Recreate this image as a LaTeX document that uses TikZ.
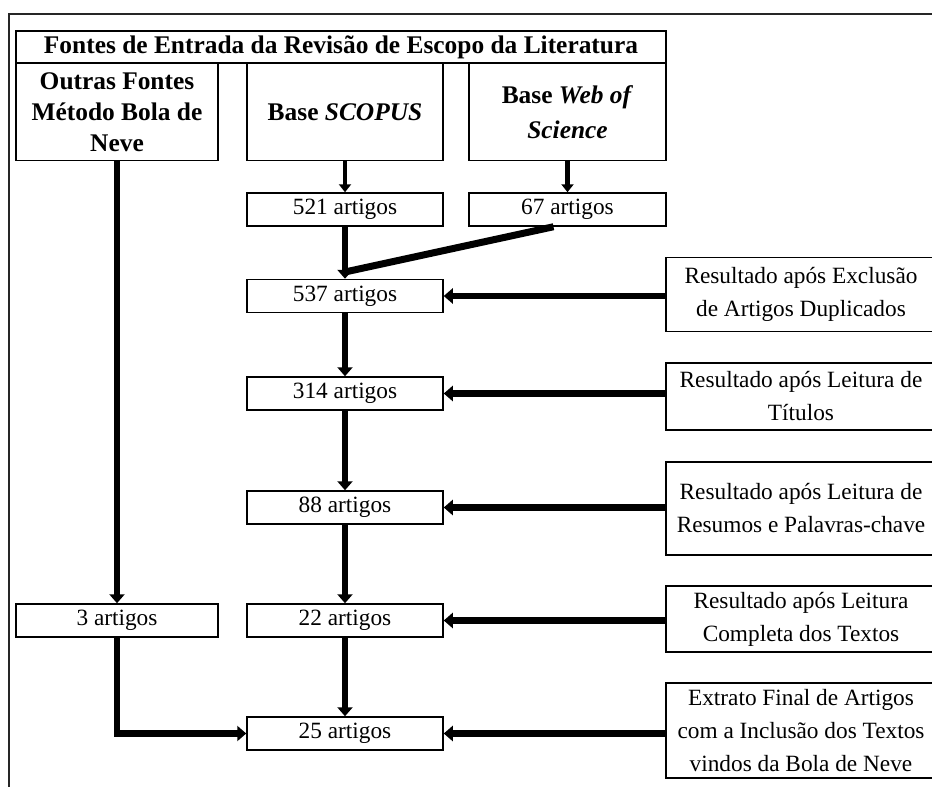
\documentclass[tikz,border=0pt]{standalone}
\usepackage{fontspec}
\setmainfont{Liberation Serif}
\usetikzlibrary{arrows.meta}

\begin{document}
\begin{tikzpicture}[x=1pt,y=-1pt,
  box/.style={draw=black, line width=1.5pt, fill=white, inner sep=0pt, align=center},
  srcbox/.style={box, font=\fontsize{25.4}{31}\selectfont\bfseries, minimum height=97pt},
  cntbox/.style={box, font=\fontsize{23.3}{33}\selectfont, minimum width=196pt, minimum height=33pt},
  notebox/.style={box, font=\fontsize{23.3}{33}\selectfont, minimum width=270pt},
  flow/.style={line width=6.5pt, -{Triangle[length=9pt,width=15pt]}},
  thinflow/.style={line width=4.5pt, -{Triangle[length=8pt,width=12pt]}},
  bar/.style={line width=7pt}]
\useasboundingbox (0,0) rectangle (932,787);
\clip (0,0) rectangle (932,787);

% outer frame
\draw[line width=1.3pt, black!85] (9,800) -- (9,14) -- (950,14);

% header and sources
\node[box, font=\fontsize{25.4}{31}\selectfont\bfseries, minimum width=650pt, minimum height=32pt]
  (head) at (341,47) {Fontes de Entrada da Revisão de Escopo da Literatura};
\node[srcbox, minimum width=202pt] (outras) at (117,112) {Outras Fontes\\Método Bola de\\Neve};
\node[srcbox, minimum width=196pt] (scopus) at (345,112) {Base \textit{SCOPUS}};
\node[srcbox, minimum width=197pt, font=\fontsize{25.4}{35}\selectfont\bfseries]
  (wos) at (567.5,112) {Base \textit{Web of}\\\textit{Science}};

% counts
\node[cntbox] (n521) at (345,209.5) {521 artigos};
\node[cntbox, minimum width=197pt] (n67) at (567.5,209.5) {67 artigos};
\node[cntbox] (n537) at (345,296) {537 artigos};
\node[cntbox] (n314) at (345,393.5) {314 artigos};
\node[cntbox] (n88) at (345,507.5) {88 artigos};
\node[cntbox, minimum width=202pt] (n3) at (117,620.5) {3 artigos};
\node[cntbox] (n22) at (345,620.5) {22 artigos};
\node[cntbox] (n25) at (345,733.5) {25 artigos};

% stage notes
\node[notebox, minimum height=74pt] (r1) at (801,294.5) {Resultado após Exclusão\\de Artigos Duplicados};
\node[notebox, minimum height=67pt] (r2) at (801,396.5) {Resultado após Leitura de\\Títulos};
\node[notebox, minimum height=93pt] (r3) at (801,508.5) {Resultado após Leitura de\\Resumos e Palavras-chave};
\node[notebox, minimum height=66pt] (r4) at (801,619) {Resultado após Leitura\\Completa dos Textos};
\node[notebox, minimum height=95pt] (r5) at (801,730.5) {Extrato Final de Artigos\\com a Inclusão dos Textos\\vindos da Bola de Neve};

% flows
\draw[thinflow] (scopus) -- (n521);
\draw[thinflow] (wos) -- (n67);
\coordinate (join) at (345,272);
\draw[bar] ([xshift=-14pt]n67.south) -- (join);
\draw[flow] (n521) -- (n537);
\draw[flow] (n537) -- (n314);
\draw[flow] (n314) -- (n88);
\draw[flow] (n88) -- (n22);
\draw[flow] (n22) -- (n25);
\draw[flow] (outras) -- (n3);
\draw[flow] (n3.south) |- (n25.west);

\draw[flow] (n537.east -| r1.west) -- (n537.east);
\draw[flow] (n314.east -| r2.west) -- (n314.east);
\draw[flow] (n88.east -| r3.west) -- (n88.east);
\draw[flow] (n22.east -| r4.west) -- (n22.east);
\draw[flow] (n25.east -| r5.west) -- (n25.east);
\end{tikzpicture}
\end{document}
